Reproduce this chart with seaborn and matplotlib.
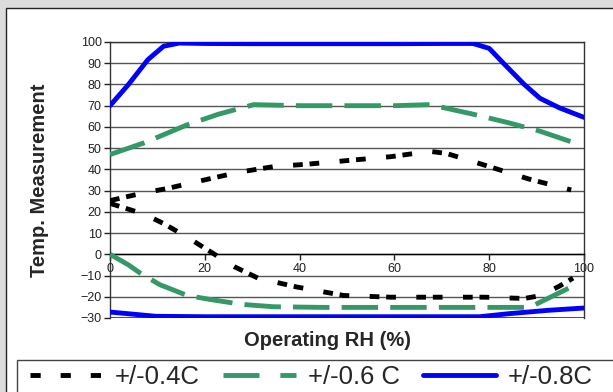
import numpy as np
import matplotlib
matplotlib.use('Agg')
import matplotlib.pyplot as plt
from matplotlib.patches import Rectangle
from matplotlib.lines import Line2D
import seaborn as sns

sns.set_theme(style='white')
plt.rcParams['font.family'] = ['Liberation Sans', 'DejaVu Sans']

# 数据
rh_blue_up = [0, 3.9, 8, 11.3, 14.6, 20, 30, 40, 50, 60, 70, 76.6, 80, 83, 87.4, 90.7, 94.8, 100]
t_blue_up = [70, 80, 91.7, 98, 99.5, 99.3, 99.2, 99.2, 99.2, 99.2, 99.3, 99.3, 97, 90, 80, 73.5, 69, 64.5]
rh_blue_lo = [0, 9.7, 20, 30, 40, 50, 60, 70, 78, 84, 92.3, 100]
t_blue_lo = [-27.2, -29.2, -29.4, -29.4, -29.4, -29.4, -29.4, -29.4, -29.4, -28, -26.4, -25.3]

rh_green_up = [0, 7.2, 16.3, 22.9, 30.3, 40, 50, 60, 67.5, 76.6, 84, 90.7, 97.3]
t_green_up = [47, 52.5, 61, 66, 70.5, 70, 70, 70, 70.5, 66, 62, 58, 53]
rh_green_lo = [0, 3.9, 6.4, 10.5, 16.3, 21.2, 27.9, 34.5, 45, 60, 75, 87.4, 89.8, 94, 96.9]
t_green_lo = [0, -5, -8.9, -14.3, -19.4, -21.3, -23.6, -24.7, -25, -25, -25, -25, -23.6, -19, -15.8]

rh_black_up = [0, 7.2, 12.1, 17.9, 27, 34.5, 41.9, 49.3, 59.3, 67.5, 71, 78.3, 88.3, 97.3]
t_black_up = [25.3, 29, 31, 34, 38.6, 41.3, 42.5, 44, 46, 48.5, 47.5, 42.5, 35.5, 30.3]
rh_black_lo = [0, 7.2, 11.3, 16.7, 21.2, 26.2, 31.2, 39.4, 49.3, 59.3, 69.2, 79.1, 87.4, 91, 94.8, 97.7]
t_black_lo = [24, 18.9, 14.5, 7.5, 1.2, -5.8, -11.2, -15.4, -19.4, -20.2, -20.2, -20.2, -20.8, -19.4, -15, -11.2]

labels = ['+/-0.4C', '+/-0.6 C', '+/-0.8C']
colors = ['#000000', '#339966', '#0000ff']
yticks = list(range(-30, 101, 10))
xticks = [0, 20, 40, 60, 80, 100]

fig = plt.figure(figsize=(6.13, 3.92), dpi=100, facecolor='#dcdcdc')
W, H = 613, 392

# 白色面板
fig.patches.append(Rectangle((6 / W, -0.1), 1.1, 1 - 8 / H + 0.1, transform=fig.transFigure,
                             facecolor='white', edgecolor='#222222', linewidth=1, zorder=-3))
# 图例框
fig.patches.append(Rectangle((17 / W, -0.1), 1.1, 1 - 360 / H + 0.1, transform=fig.transFigure,
                             facecolor='white', edgecolor='#444444', linewidth=1, zorder=-2))

ax = fig.add_axes([110 / W, 1 - 318 / H, 474 / W, 276 / H])
ax.set_facecolor('white')

lw = 3.5
black_ls = (0, (2.0, 1.4, 2.0, 4.2))
green_ls = (0, (7.5, 2.5))
segs = [
    (rh_black_up, t_black_up, colors[0], black_ls),
    (rh_black_lo, t_black_lo, colors[0], black_ls),
    (rh_green_up, t_green_up, colors[1], green_ls),
    (rh_green_lo, t_green_lo, colors[1], green_ls),
    (rh_blue_up, t_blue_up, colors[2], '-'),
    (rh_blue_lo, t_blue_lo, colors[2], '-'),
]
for xs, ys, c, ls in segs:
    sns.lineplot(x=xs, y=ys, ax=ax, color=c, linewidth=lw, linestyle=ls,
                 sort=False, estimator=None, zorder=3)

ax.set_xlim(0, 100)
ax.set_ylim(-30, 100)
ax.set_yticks(yticks)
ax.set_xticks(xticks)
ax.yaxis.grid(True, color='#555555', linewidth=1)
ax.xaxis.grid(False)
ax.set_axisbelow(True)

for s in ['top', 'right', 'left']:
    ax.spines[s].set_visible(True)
    ax.spines[s].set_color('#333333')
    ax.spines[s].set_linewidth(1)
ax.spines['bottom'].set_position(('data', 0))
ax.spines['bottom'].set_color('black')
ax.spines['bottom'].set_linewidth(1)
ax.axhline(-30, color='#333333', linewidth=1.2, zorder=2)

ax.tick_params(axis='y', left=True, direction='out', length=4, width=1, labelsize=9, pad=2,
               colors='#222222')
ax.tick_params(axis='x', bottom=True, direction='out', length=4, width=1, labelsize=9, pad=2,
               colors='#222222')

fig.text(40 / W, 1 - 180 / H, 'Temp. Measurement', rotation=90, ha='center', va='center',
         fontsize=14.5, fontweight='bold')
fig.text(328 / W, 1 - 340 / H, 'Operating RH (%)', ha='center', va='center',
         fontsize=14.5, fontweight='bold')

handles = [
    Line2D([], [], color=colors[0], linewidth=lw, linestyle=(0, (2.1, 4.1))),
    Line2D([], [], color=colors[1], linewidth=lw, linestyle=(0, (7.4, 4.3))),
    Line2D([], [], color=colors[2], linewidth=lw, linestyle='-'),
]
fig.legend(handles, labels, loc='center left', bbox_to_anchor=(30 / W, 1 - 377 / H), ncol=3,
           frameon=False, fontsize=18.5, handlelength=2.85, handletextpad=0.45, columnspacing=0.9,
           borderaxespad=0, borderpad=0)

fig.savefig('out.png', dpi=100, facecolor=fig.get_facecolor())
